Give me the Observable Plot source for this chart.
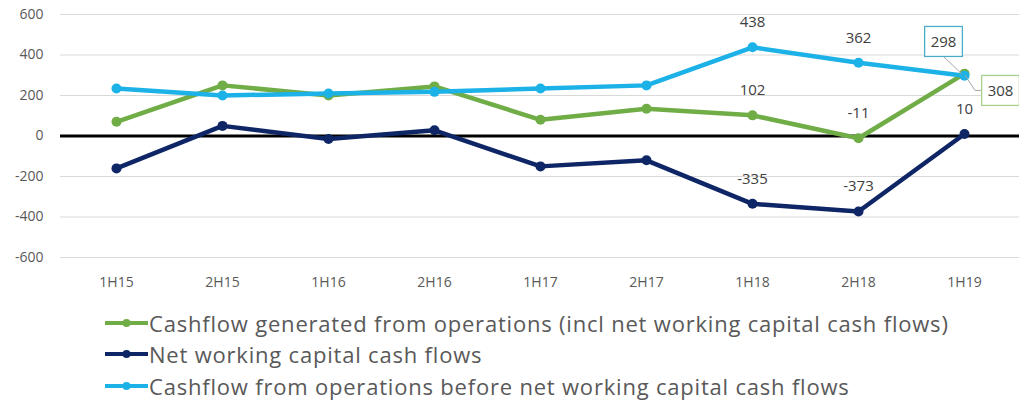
<!DOCTYPE html>
<html><head><meta charset="utf-8">
<script src="https://cdn.jsdelivr.net/npm/d3@7"></script>
<script src="https://cdn.jsdelivr.net/npm/@observablehq/plot@0.6"></script>
<style>
html,body{margin:0;padding:0;background:#fff;}
body{width:1019px;height:411px;overflow:hidden;font-family:"Open Sans",sans-serif;}
#legend{margin-top:12px;margin-left:105px;}
.row{display:flex;align-items:center;height:31.5px;}
.row span{font-size:22px;color:#595959;white-space:nowrap;margin-left:1px;letter-spacing:0.8px;}
</style></head><body>
<div id="chart"></div>
<div id="legend"></div>
<script>
const periods = ["1H15","2H15","1H16","2H16","1H17","2H17","1H18","2H18","1H19"];
const cashflowGenerated = [70, 250, 200, 245, 80, 135, 102, -11, 308];
const netWorkingCapital = [-160, 50, -15, 28, -150, -120, -335, -373, 10];
const cashflowBeforeNWC = [235, 200, 210, 218, 235, 250, 438, 362, 298];
const yTicks = [-600, -400, -200, 0, 200, 400, 600];
const seriesNames = [
  "Cashflow generated from operations (incl net working capital cash flows)",
  "Net working capital cash flows",
  "Cashflow from operations before net working capital cash flows"
];
const seriesColors = ["#70ad47", "#0e2566", "#1cb1e7"];
const plainLabelPeriods = ["1H18", "2H18"];

const seriesValues = [cashflowGenerated, netWorkingCapital, cashflowBeforeNWC];
const rows = [];
seriesValues.forEach((vals, s) => vals.forEach((v, i) => rows.push({period: periods[i], series: seriesNames[s], value: v, s})));
const drawOrder = [1, 0, 2];

const plainLabels = rows.filter(r => plainLabelPeriods.includes(r.period) || (r.s === 1 && r.period === "1H19"));
const blueBox = rows.filter(r => r.s === 2 && r.period === "1H19");
const greenBox = rows.filter(r => r.s === 0 && r.period === "1H19");

const plot = Plot.plot({
  width: 1019,
  height: 295,
  marginTop: 14,
  marginBottom: 38,
  marginLeft: 60,
  marginRight: 0,
  style: {fontFamily: "'Open Sans', sans-serif", color: "#595959", background: "#fff", overflow: "visible"},
  x: {type: "point", domain: periods, padding: 0.5},
  y: {domain: [-600, 600]},
  color: {domain: seriesNames, range: seriesColors},
  marks: [
    Plot.ruleY(yTicks.filter(t => t !== 0), {stroke: "#d9d9d9", strokeWidth: 1}),
    Plot.axisX({tickSize: 0, tickPadding: 20, fontSize: 14, label: null}),
    Plot.axisY({ticks: yTicks, tickFormat: d => String(d), tickSize: 0, tickPadding: 17, fontSize: 14, label: null}),
    Plot.ruleY([0], {stroke: "#000", strokeWidth: 3}),
    ...drawOrder.map(s => Plot.line(rows.filter(r => r.s === s), {x: "period", y: "value", stroke: "series", strokeWidth: 4.5})),
    ...drawOrder.map(s => Plot.dot(rows.filter(r => r.s === s), {x: "period", y: "value", fill: "series", r: 5})),
    Plot.text(plainLabels, {x: "period", y: "value", text: d => String(d.value), dy: -25, fill: "#404040", fontSize: 15}),
    Plot.text(blueBox, {x: "period", y: "value", text: d => String(d.value), dx: -21, dy: -33, fill: "#404040", fontSize: 15, className: "boxed-blue"}),
    Plot.text(greenBox, {x: "period", y: "value", text: d => String(d.value), dx: 36, dy: 18, fill: "#404040", fontSize: 15, className: "boxed-green"})
  ]
});
document.getElementById("chart").appendChild(plot);

// boxes around callout labels
const svgNS = "http://www.w3.org/2000/svg";
function boxIt(cls, stroke) {
  const t = plot.querySelector(`g.${cls} text`);
  if (!t) return;
  const b = t.getBBox();
  const padX = 6, padY = 6;
  const rect = document.createElementNS(svgNS, "rect");
  rect.setAttribute("x", b.x - padX);
  rect.setAttribute("y", b.y - padY + 1);
  rect.setAttribute("width", b.width + 2 * padX);
  rect.setAttribute("height", b.height + 2 * padY - 2);
  rect.setAttribute("fill", "#fff");
  rect.setAttribute("stroke", stroke);
  rect.setAttribute("stroke-width", 1.3);
  if (t.getAttribute("transform")) rect.setAttribute("transform", t.getAttribute("transform"));
  t.parentNode.insertBefore(rect, t);
}
boxIt("boxed-blue", "#4aaec8");
boxIt("boxed-green", "#a9cf8c");

// leader lines
const xs = plot.scale("x"), ys = plot.scale("y");
const px = xs.apply("1H19");
const pyB = ys.apply(blueBox[0].value);
const pyG = ys.apply(greenBox[0].value);
const leader = document.createElementNS(svgNS, "g");
const rB = plot.querySelector("g.boxed-blue rect").getBoundingClientRect();
const rG = plot.querySelector("g.boxed-green rect").getBoundingClientRect();
const sv = plot.getBoundingClientRect();
const l1 = document.createElementNS(svgNS, "polyline");
l1.setAttribute("points", `${rB.x - sv.x + rB.width/2},${rB.bottom - sv.y} ${px - 2},${pyB - 1}`);
const l2 = document.createElementNS(svgNS, "polyline");
const gy = rG.y - sv.y + rG.height/2;
l2.setAttribute("points", `${px + 1},${pyG + 2} ${px + 11},${gy} ${rG.x - sv.x},${gy}`);
for (const l of [l1, l2]) { l.setAttribute("fill", "none"); l.setAttribute("stroke", "#a6a6a6"); l.setAttribute("stroke-width", 1); leader.appendChild(l); }
plot.insertBefore(leader, plot.querySelector("g.boxed-blue"));

// legend
const legend = document.getElementById("legend");
seriesNames.forEach((name, i) => {
  const row = document.createElement("div");
  row.className = "row";
  row.innerHTML = `<svg width="43" height="12"><line x1="0" x2="43" y1="6" y2="6" stroke="${seriesColors[i]}" stroke-width="4"/><circle cx="21.5" cy="6" r="4" fill="${seriesColors[i]}"/></svg><span>${name}</span>`;
  legend.appendChild(row);
});
</script>
</body></html>
